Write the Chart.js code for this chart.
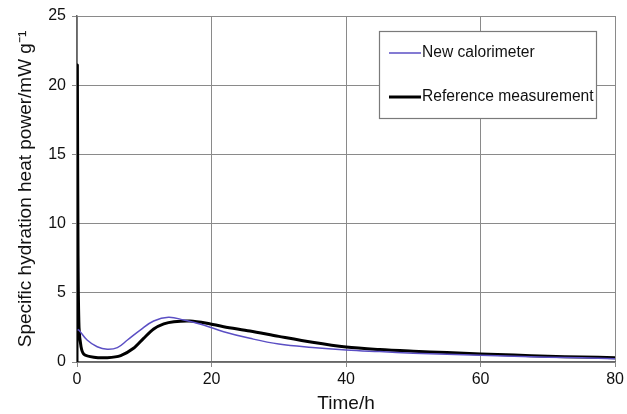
<!DOCTYPE html>
<html>
<head>
<meta charset="utf-8">
<script src="https://cdn.jsdelivr.net/npm/chart.js@4/dist/chart.umd.min.js"></script>
<style>
html,body{margin:0;padding:0;background:#fff;}
#wrap{width:627px;height:414px;}
</style>
</head>
<body>
<div id="wrap"><canvas id="c" width="627" height="414"></canvas></div>
<script>
// Time (h) and specific heat power (mW/g)
const newCalTime = [0.1, 0.3, 1.5, 3, 4.5, 6, 7.5, 9.4, 11.4, 13.6, 15.9, 18.8, 21.8, 25.7, 30, 35, 40, 45, 50, 55, 60, 65, 70, 75, 80];
const newCalPower = [2.35, 2.3, 1.59, 1.1, 0.92, 1.04, 1.59, 2.31, 2.96, 3.23, 3.03, 2.67, 2.19, 1.71, 1.3, 1.05, 0.87, 0.75, 0.64, 0.56, 0.48, 0.41, 0.35, 0.3, 0.24];
const refTime = [0, 0.05, 0.15, 0.3, 0.6, 1.04, 2.5, 4.5, 6.5, 8.4, 9.9, 11.4, 12.9, 14.4, 16.8, 19.3, 21.8, 25.7, 30, 35, 40, 45, 50, 55, 60, 65, 70, 75, 80];
const refPower = [0, 21.4, 8, 2.5, 1.1, 0.55, 0.34, 0.31, 0.46, 0.99, 1.71, 2.38, 2.75, 2.91, 2.96, 2.8, 2.55, 2.24, 1.85, 1.42, 1.08, 0.9, 0.78, 0.68, 0.58, 0.5, 0.42, 0.36, 0.31];
const seriesLabels = ["New calorimeter", "Reference measurement"];
const xTicks = [0, 20, 40, 60, 80];
const yTicks = [0, 5, 10, 15, 20, 25];

const FONT = "'Liberation Sans', Arial, Helvetica, sans-serif";

const legendBox = {
  id: 'legendBox',
  afterDatasetsDraw(chart) {
    const ctx = chart.ctx;
    const x0 = 379, y0 = 31, w = 217, h = 87;
    ctx.save();
    ctx.fillStyle = '#fff';
    ctx.fillRect(x0, y0, w, h);
    ctx.strokeStyle = '#7a7a7a';
    ctx.lineWidth = 1.2;
    ctx.strokeRect(x0 + 0.5, y0 + 0.5, w, h);
    const rows = [53, 97];
    chart.data.datasets.forEach((ds, i) => {
      ctx.strokeStyle = ds.borderColor;
      ctx.lineWidth = ds.borderWidth;
      ctx.beginPath();
      ctx.moveTo(389, rows[i]);
      ctx.lineTo(421, rows[i]);
      ctx.stroke();
      ctx.fillStyle = '#111';
      ctx.font = '15.6px ' + FONT;
      ctx.textBaseline = 'middle';
      ctx.textAlign = 'left';
      ctx.fillText(ds.label, 422, rows[i]);
    });
    ctx.restore();
  }
};

new Chart(document.getElementById('c'), {
  type: 'scatter',
  data: {
    datasets: [
      {
        label: seriesLabels[0],
        data: newCalTime.map((t, i) => ({x: t, y: newCalPower[i]})),
        showLine: true,
        borderColor: '#5b4fc4',
        borderWidth: 1.5,
        pointRadius: 0,
        tension: 0.4
      },
      {
        label: seriesLabels[1],
        data: refTime.map((t, i) => ({x: t, y: refPower[i]})),
        showLine: true,
        borderColor: '#000',
        borderWidth: 3,
        pointRadius: 0,
        tension: 0.3
      }
    ]
  },
  options: {
    responsive: false,
    animation: false,
    devicePixelRatio: 1,
    layout: {padding: {left: 0, right: 10, top: 16, bottom: 0}},
    plugins: {legend: {display: false}, tooltip: {enabled: false}},
    scales: {
      x: {
        type: 'linear', min: 0, max: 80,
        afterBuildTicks: s => { s.ticks = xTicks.map(v => ({value: v})); },
        afterFit: s => { s.height = 52; },
        grid: {color: '#8a8a8a', lineWidth: 1, tickLength: 5, drawTicks: true},
        border: {color: '#666', width: 1.5},
        ticks: {color: '#111', font: {family: FONT, size: 16}, padding: 3, maxRotation: 0},
        title: {display: true, text: 'Time/h', color: '#111', font: {family: FONT, size: 19, lineHeight: 1}, padding: {top: 0, bottom: 1}}
      },
      y: {
        type: 'linear', min: 0, max: 25,
        afterBuildTicks: s => { s.ticks = yTicks.map(v => ({value: v})); },
        afterFit: s => { s.width = 77; },
        grid: {color: '#8a8a8a', lineWidth: 1, tickLength: 5, drawTicks: true},
        border: {color: '#666', width: 1.5},
        ticks: {color: '#111', font: {family: FONT, size: 16}, padding: 6},
        title: {display: true, text: 'Specific hydration heat power/mW g\u207B\u00B9', color: '#111', font: {family: FONT, size: 19}, padding: {top: 14, bottom: 4}}
      }
    }
  },
  plugins: [legendBox]
});
</script>
</body>
</html>
